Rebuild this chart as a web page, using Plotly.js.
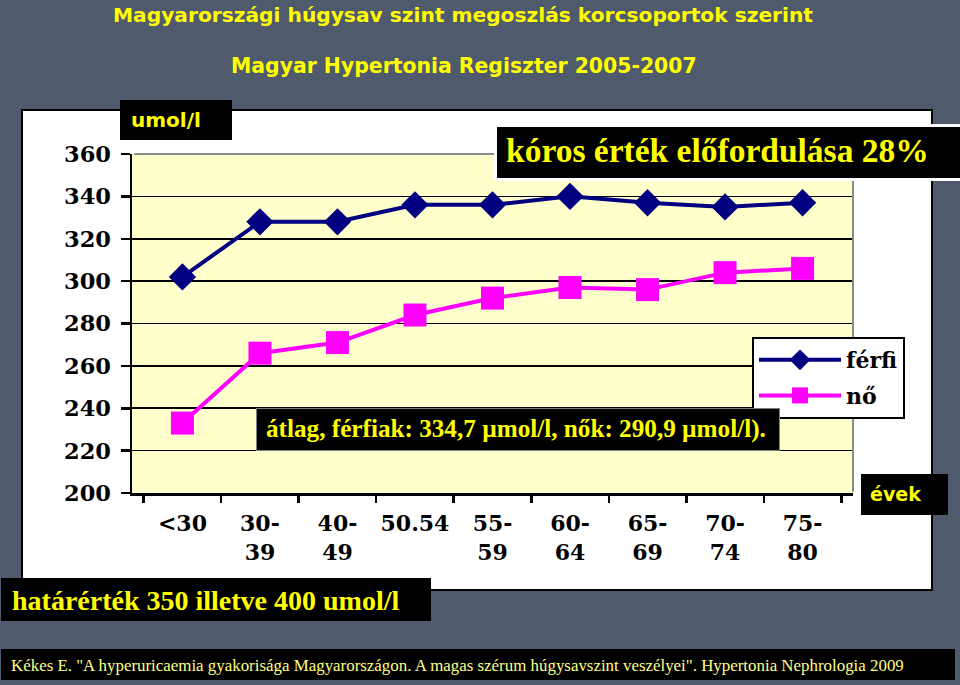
<!DOCTYPE html>
<html>
<head>
<meta charset="utf-8">
<script src="https://cdn.plot.ly/plotly-3.0.1.min.js"></script>
<style>
  html, body { margin: 0; padding: 0; background: #4f5b6d; }
  #chart { width: 960px; height: 685px; }
</style>
</head>
<body>
<div id="chart"></div>
<script>
// ---- data ----
const ageGroups = ["<30", "30-39", "40-49", "50-54", "55-59", "60-64", "65-69", "70-74", "75-80"];
const tickLabels = ["&lt;30", "30-<br>39", "40-<br>49", "50.54", "55-<br>59", "60-<br>64", "65-<br>69", "70-<br>74", "75-<br>80"];
const menValues = [302, 328, 328, 336, 336, 340, 337, 335, 337];
const womenValues = [233, 266, 271, 284, 292, 297, 296, 304, 306];
const seriesNames = ["férfi", "nő"];
const yTicks = [200, 220, 240, 260, 280, 300, 320, 340, 360];

// ---- layout helpers (pixel -> paper coordinates) ----
const W = 960, H = 685;
const M = { l: 132, r: 107, t: 154, b: 192 };
const PW = W - M.l - M.r, PH = H - M.t - M.b;
const px = x => (x - M.l) / PW;
const py = y => 1 - (y - M.t) / PH;

const times = "Liberation Serif, Times New Roman, serif";
const wideSerif = "DejaVu Serif, serif";
const wideSans = "DejaVu Sans, sans-serif";
const YEL = "#ffff00";

function panel(l, t, r, b, extra) {
  return Object.assign({
    text: " ", xref: "paper", yref: "paper",
    x: px(l), y: py(t), xanchor: "left", yanchor: "top",
    width: r - l, height: b - t, borderpad: 0, borderwidth: 0,
    bgcolor: "#000000", showarrow: false
  }, extra || {});
}
function label(text, x, yc, font) {
  return {
    text: text, xref: "paper", yref: "paper",
    x: px(x), y: py(yc), xanchor: "left", yanchor: "middle",
    borderpad: 0, borderwidth: 0, showarrow: false, font: font
  };
}

const traces = [
  {
    type: "scatter", mode: "lines+markers", name: seriesNames[0],
    x: ageGroups, y: menValues, legendgroup: "a",
    line: { color: "#000080", width: 4 },
    marker: { symbol: "diamond", size: 21, color: "#000080" }
  },
  {
    type: "scatter", mode: "lines+markers", name: seriesNames[1],
    x: ageGroups, y: womenValues, legendgroup: "b",
    line: { color: "#ff00ff", width: 4 },
    marker: { symbol: "square", size: 23, color: "#ff00ff" }
  }
];

const layout = {
  width: W, height: H,
  margin: M,
  paper_bgcolor: "#4f5b6d",
  plot_bgcolor: "#ffffcc",
  showlegend: true,
  legend: {
    x: px(752), y: py(337), xanchor: "left", yanchor: "top",
    bgcolor: "#ffffff", bordercolor: "#000000", borderwidth: 2,
    font: { family: wideSerif, size: 22, color: "#000000", weight: "bold" },
    itemwidth: 82, traceorder: "grouped", tracegroupgap: 4
  },
  xaxis: {
    type: "category", categoryorder: "array", categoryarray: ageGroups,
    tickvals: ageGroups, ticktext: tickLabels, tickangle: 0,
    tickson: "boundaries", ticks: "outside", ticklen: 7, tickwidth: 2.5, tickcolor: "#000000",
    showline: true, linecolor: "#000000", linewidth: 2.5,
    showgrid: false, zeroline: false, fixedrange: true,
    ticklabelstandoff: 9,
    tickfont: { family: wideSerif, size: 22, color: "#000000", weight: "bold" }
  },
  yaxis: {
    range: [200, 360], tickvals: yTicks,
    ticks: "outside", ticklen: 9, tickwidth: 2.5, tickcolor: "#000000",
    showline: true, linecolor: "#000000", linewidth: 2.5,
    showgrid: true, gridcolor: "#000000", gridwidth: 1.6, zeroline: false,
    ticklabelstandoff: 5,
    tickfont: { family: wideSerif, size: 22.5, color: "#000000", weight: "bold" }
  },
  shapes: [
    { type: "rect", xref: "paper", yref: "paper", layer: "below",
      x0: px(22), x1: px(932), y0: py(590), y1: py(110),
      fillcolor: "#ffffff", line: { color: "#000000", width: 2 } },
    { type: "rect", xref: "x domain", yref: "y domain", layer: "below",
      x0: 0, x1: 1, y0: 0, y1: 1, fillcolor: "#ffffcc", line: { width: 0 } },
    { type: "line", xref: "x domain", yref: "y domain", layer: "above",
      x0: 0.003, x1: 1, y0: 1, y1: 1, line: { color: "#8c8c8c", width: 2 } },
    { type: "line", xref: "x domain", yref: "y domain", layer: "above",
      x0: 1, x1: 1, y0: 0.004, y1: 1, line: { color: "#8c8c8c", width: 2 } }
  ],
  annotations: [
    { text: "Magyarországi húgysav szint megoszlás korcsoportok szerint",
      xref: "paper", yref: "paper", x: px(463), y: py(15), xanchor: "center", yanchor: "middle",
      showarrow: false, font: { family: wideSans, size: 20.2, color: YEL, weight: "bold" } },
    { text: "Magyar Hypertonia Regiszter 2005-2007",
      xref: "paper", yref: "paper", x: px(464), y: py(66), xanchor: "center", yanchor: "middle",
      showarrow: false, font: { family: wideSans, size: 20.4, color: YEL, weight: "bold" } },

    panel(120, 100, 232, 140),
    label("umol/l", 131, 120, { family: wideSans, size: 20, color: YEL, weight: "bold" }),

    panel(494, 124, 957, 175, { bordercolor: "#ffffff", borderwidth: 3 }),
    label("kóros érték előfordulása 28%", 506, 150, { family: times, size: 33.5, color: YEL, weight: "bold" }),

    panel(256, 408, 778, 449, { bordercolor: "#7f7f7f", borderwidth: 1 }),
    label("átlag, férfiak: 334,7 µmol/l, nők: 290,9 µmol/l).", 266, 429, { family: times, size: 25.2, color: YEL, weight: "bold" }),

    panel(861, 474, 948, 515),
    label("évek", 870, 494, { family: wideSans, size: 19, color: YEL, weight: "bold" }),

    panel(1, 578, 431, 621),
    label("határérték 350 illetve 400 umol/l", 12, 600, { family: times, size: 28, color: YEL, weight: "bold" }),

    panel(1, 649, 955, 680),
    label("Kékes E. \"A hyperuricaemia gyakorisága Magyarországon. A magas szérum húgysavszint veszélyei\". Hypertonia Nephrologia 2009",
          11, 665, { family: times, size: 16.9, color: "#ffff80" })
  ]
};

Plotly.newPlot("chart", traces, layout, { staticPlot: true, displayModeBar: false });
</script>
</body>
</html>
